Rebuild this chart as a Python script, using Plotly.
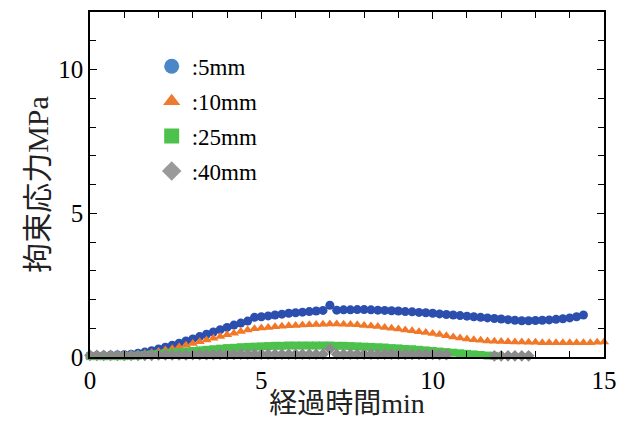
import plotly.graph_objects as go

# time axis (min), sampled every 0.2 min
t_5mm = [round(i * 0.2, 1) for i in range(73)]      # 0 .. 14.4
t_10mm = [round(i * 0.2, 1) for i in range(76)]     # 0 .. 15.0
t_25mm = [round(i * 0.2, 1) for i in range(60)]     # 0 .. 11.8
t_40mm = [round(i * 0.2, 1) for i in range(65)]     # 0 .. 12.8

s_5mm = [0.05, 0.05, 0.05, 0.06, 0.07, 0.08, 0.10, 0.13, 0.17, 0.22,
         0.28, 0.34, 0.41, 0.48, 0.56, 0.63, 0.71, 0.79, 0.87, 0.95,
         1.03, 1.11, 1.18, 1.25, 1.38, 1.40, 1.43, 1.46, 1.49, 1.52,
         1.54, 1.56, 1.58, 1.60, 1.62, 1.80, 1.63, 1.64, 1.64, 1.65,
         1.65, 1.64, 1.63, 1.62, 1.61, 1.60, 1.58, 1.57, 1.55, 1.54,
         1.52, 1.50, 1.48, 1.46, 1.44, 1.42, 1.40, 1.38, 1.36, 1.34,
         1.32, 1.30, 1.28, 1.26, 1.26, 1.27, 1.28, 1.29, 1.31, 1.33,
         1.36, 1.40, 1.46]

s_10mm = [0.03, 0.03, 0.03, 0.04, 0.05, 0.06, 0.07, 0.09, 0.12, 0.15,
          0.19, 0.24, 0.29, 0.35, 0.41, 0.47, 0.53, 0.59, 0.65, 0.71,
          0.77, 0.83, 0.89, 0.94, 0.98, 1.01, 1.03, 1.05, 1.07, 1.09,
          1.10, 1.11, 1.12, 1.13, 1.14, 1.15, 1.15, 1.14, 1.13, 1.12,
          1.10, 1.08, 1.06, 1.03, 1.00, 0.97, 0.94, 0.91, 0.88, 0.85,
          0.82, 0.78, 0.74, 0.70, 0.66, 0.63, 0.60, 0.58, 0.56, 0.55,
          0.54, 0.53, 0.52, 0.52, 0.51, 0.51, 0.50, 0.50, 0.50, 0.50,
          0.50, 0.50, 0.50, 0.50, 0.51, 0.52]

s_25mm = [0.03, 0.03, 0.03, 0.03, 0.03, 0.03, 0.04, 0.05, 0.07, 0.09,
          0.11, 0.13, 0.15, 0.17, 0.19, 0.21, 0.23, 0.25, 0.27, 0.29,
          0.31, 0.32, 0.34, 0.35, 0.36, 0.37, 0.38, 0.39, 0.39, 0.40,
          0.40, 0.40, 0.40, 0.40, 0.40, 0.40, 0.39, 0.39, 0.38, 0.37,
          0.36, 0.35, 0.34, 0.33, 0.31, 0.30, 0.28, 0.27, 0.25, 0.23,
          0.21, 0.19, 0.17, 0.15, 0.13, 0.11, 0.09, 0.07, 0.05, 0.04]

s_40mm = [0.06, 0.06, 0.06, 0.06, 0.06, 0.06, 0.06, 0.06, 0.06, 0.06,
          0.07, 0.07, 0.07, 0.07, 0.07, 0.08, 0.08, 0.08, 0.08, 0.09,
          0.09, 0.09, 0.10, 0.10, 0.10, 0.10, 0.10, 0.10, 0.10, 0.10,
          0.10, 0.10, 0.10, 0.10, 0.10, 0.28, 0.10, 0.10, 0.10, 0.10,
          0.10, 0.10, 0.10, 0.10, 0.10, 0.10, 0.09, 0.09, 0.09, 0.09,
          0.09, 0.08, 0.08, None, None, None, None, None, None, 0.04,
          0.04, 0.04, 0.04, 0.04, 0.04]

labels = [":5mm", ":10mm", ":25mm", ":40mm"]
data_colors = ["#2c4eae", "#f07828", "#4cc24c", "#8a8a8a"]
legend_colors = ["#4a86c8", "#ee7a30", "#4cc24c", "#9a9a9a"]
symbols = ["circle", "triangle-up", "square", "diamond"]
sizes = [9, 9, 8, 9]

serif = "Liberation Serif, Times New Roman, serif"
title_font = "Liberation Serif, Noto Sans CJK JP, serif"

fig = go.Figure()
series = [(t_5mm, s_5mm), (t_10mm, s_10mm), (t_25mm, s_25mm), (t_40mm, s_40mm)]
for (tx, sy), c, sym, sz in zip(series, data_colors, symbols, sizes):
    fig.add_trace(go.Scatter(x=tx, y=sy, mode="markers", showlegend=False,
                             cliponaxis=False,
                             marker=dict(symbol=sym, size=sz, color=c,
                                         line=dict(width=0))))

for i, (lab, c, sym) in enumerate(zip(labels, legend_colors, symbols)):
    fig.add_trace(go.Scatter(x=[None], y=[None], mode="markers", name=lab,
                             legendgroup=f"g{i}",
                             marker=dict(symbol=sym, size=15, color=c,
                                         line=dict(width=0))))

axis_common = dict(
    showline=True, linecolor="black", linewidth=1.5, mirror="ticks",
    ticks="inside", ticklen=7, tickwidth=1.2, tickcolor="black",
    showgrid=False, zeroline=False, automargin=False,
    tickfont=dict(family=serif, size=25, color="black"),
    minor=dict(dtick=1, ticks="inside", ticklen=6, tickwidth=1.2,
               tickcolor="black", showgrid=False),
)

fig.update_xaxes(range=[0, 15], tickvals=[0, 5, 10, 15], **axis_common,
                 title=dict(text="経過時間min", standoff=9,
                            font=dict(family=title_font, size=28, color="#222")))
fig.update_yaxes(range=[0, 12], tickvals=[0, 5, 10], **axis_common,
                 title=dict(text="拘束応力MPa", standoff=1,
                            font=dict(family=title_font, size=30, color="#222")))

# the page adds an 8 px body margin, so the figure is sized to fit inside it
fig.update_layout(
    width=614, height=411,
    margin=dict(l=82, r=18, t=4, b=62),
    paper_bgcolor="white", plot_bgcolor="white",
    legend=dict(x=0.12, y=0.905, xanchor="left", yanchor="top",
                bgcolor="rgba(0,0,0,0)", borderwidth=0,
                tracegroupgap=2, itemwidth=30,
                font=dict(family=serif, size=23, color="black")),
)

fig.write_html("out.html")
